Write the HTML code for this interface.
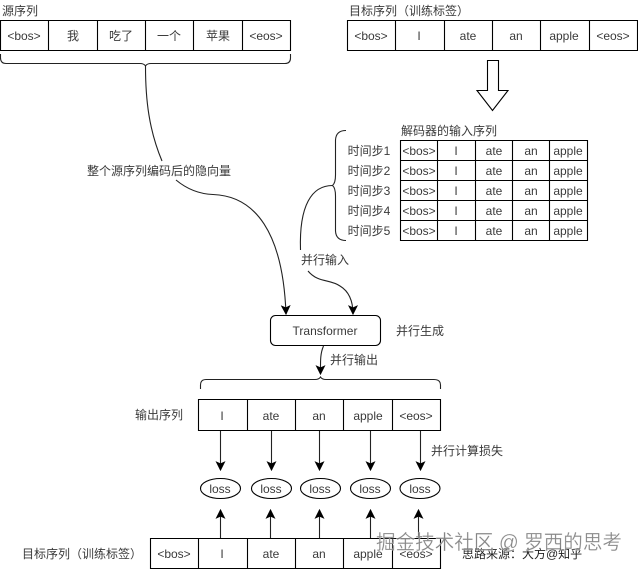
<!DOCTYPE html>
<html>
<head>
<meta charset="utf-8">
<style>
html,body{margin:0;padding:0;background:#fff;}
svg{display:block;}
text{font-family:"Liberation Sans","Noto Sans CJK SC",sans-serif;font-size:12px;fill:#3a3a3a;text-anchor:middle;}
.s{text-anchor:start;}
.l{fill:none;stroke:#000;stroke-width:1.1;}
.c{fill:none;stroke:#222;stroke-width:1.1;}
</style>
</head>
<body>
<svg width="638" height="569" viewBox="0 0 638 569" xmlns="http://www.w3.org/2000/svg">
<defs>
<marker id="a" markerUnits="userSpaceOnUse" markerWidth="10" markerHeight="12" refX="8" refY="4.5" orient="auto" viewBox="0 0 9 9">
<path d="M0 0L9 4.5L0 9L2 4.5Z" fill="#000"/>
</marker>
</defs>

<!-- Source table -->
<text class="s" x="2" y="15">源序列</text>
<path class="l" d="M0.5 20.5H290.5V50.5H0.5ZM48.5 20.5V50.5M97.5 20.5V50.5M145.5 20.5V50.5M193.5 20.5V50.5M242.5 20.5V50.5"/>
<text x="24" y="40">&lt;bos&gt;</text>
<text x="73" y="40">我</text>
<text x="121" y="40">吃了</text>
<text x="169" y="40">一个</text>
<text x="218" y="40">苹果</text>
<text x="266" y="40">&lt;eos&gt;</text>
<path class="c" d="M0.5 54V58Q0.5 63.5 6 63.5H140Q144 63.5 145.5 66Q147 63.5 151 63.5H285Q290.5 63.5 290.5 58V54"/>

<!-- Target table top -->
<text class="s" x="349" y="15">目标序列（训练标签）</text>
<path class="l" d="M347.5 20.5H637.5V50.5H347.5ZM395.5 20.5V50.5M444.5 20.5V50.5M492.5 20.5V50.5M540.5 20.5V50.5M589.5 20.5V50.5"/>
<text x="371" y="40">&lt;bos&gt;</text>
<text x="419" y="40">I</text>
<text x="468" y="40">ate</text>
<text x="516" y="40">an</text>
<text x="564" y="40">apple</text>
<text x="613" y="40">&lt;eos&gt;</text>

<!-- Hollow arrow -->
<path d="M487.5 60.5H498.5V90.5H508L492.5 110.5L477 90.5H487.5Z" fill="#fff" stroke="#000" stroke-width="1.1"/>

<!-- Decoder table -->
<text x="449" y="135">解码器的输入序列</text>
<path class="l" d="M400.5 140.5H587.5V240.5H400.5ZM400.5 160.5H587.5M400.5 180.5H587.5M400.5 200.5H587.5M400.5 220.5H587.5M437.5 140.5V240.5M475.5 140.5V240.5M512.5 140.5V240.5M549.5 140.5V240.5"/>
<g>
<text x="369" y="155">时间步1</text><text x="419" y="155">&lt;bos&gt;</text><text x="456" y="155">I</text><text x="494" y="155">ate</text><text x="531" y="155">an</text><text x="568" y="155">apple</text>
<text x="369" y="175">时间步2</text><text x="419" y="175">&lt;bos&gt;</text><text x="456" y="175">I</text><text x="494" y="175">ate</text><text x="531" y="175">an</text><text x="568" y="175">apple</text>
<text x="369" y="195">时间步3</text><text x="419" y="195">&lt;bos&gt;</text><text x="456" y="195">I</text><text x="494" y="195">ate</text><text x="531" y="195">an</text><text x="568" y="195">apple</text>
<text x="369" y="215">时间步4</text><text x="419" y="215">&lt;bos&gt;</text><text x="456" y="215">I</text><text x="494" y="215">ate</text><text x="531" y="215">an</text><text x="568" y="215">apple</text>
<text x="369" y="235">时间步5</text><text x="419" y="235">&lt;bos&gt;</text><text x="456" y="235">I</text><text x="494" y="235">ate</text><text x="531" y="235">an</text><text x="568" y="235">apple</text>
</g>
<path class="c" d="M346 130.5Q336 130.5 335.5 140V175Q335.5 183 332.5 185.5Q335.5 188 335.5 196V231Q336 240.5 346 240.5"/>

<!-- Curves -->
<path class="c" d="M145.5 66C145.5 100 149 130 162 161"/>
<path class="c" d="M176 180C188 190 200 194 213 194.5C255 196 283 232 286 314" marker-end="url(#a)"/>
<text x="159" y="175">整个源序列编码后的隐向量</text>
<path class="c" d="M332.5 185.5C312 185.5 299 205 300.5 250"/>
<path class="c" d="M308 271C318 283 330 279 340 286C350 292 353 302 353 314" marker-end="url(#a)"/>
<text x="325" y="264">并行输入</text>

<!-- Transformer -->
<rect x="270.5" y="315.5" width="110" height="30" rx="5" fill="#fff" stroke="#000" stroke-width="1.1"/>
<text x="325" y="335">Transformer</text>
<text class="s" x="396" y="335">并行生成</text>
<path class="c" d="M323.5 346C320 354 320.5 362 320.5 374" marker-end="url(#a)"/>
<text class="s" x="330" y="364">并行输出</text>
<path class="c" d="M200.5 389V385Q200.5 379.5 206 379.5H315Q319 379.5 320.5 377Q322 379.5 326 379.5H434Q440.5 379.5 440.5 385V389"/>

<!-- Output table -->
<text class="s" x="135" y="419">输出序列</text>
<path class="l" d="M198.5 399.5H440.5V430.5H198.5ZM247.5 399.5V430.5M295.5 399.5V430.5M343.5 399.5V430.5M392.5 399.5V430.5"/>
<text x="222" y="420">I</text>
<text x="271" y="420">ate</text>
<text x="319" y="420">an</text>
<text x="368" y="420">apple</text>
<text x="416" y="420">&lt;eos&gt;</text>

<!-- Arrows down -->
<path class="c" d="M220.5 431V470" marker-end="url(#a)"/>
<path class="c" d="M271.5 431V470" marker-end="url(#a)"/>
<path class="c" d="M319.5 431V470" marker-end="url(#a)"/>
<path class="c" d="M370.5 431V470" marker-end="url(#a)"/>
<path class="c" d="M420.5 431V470" marker-end="url(#a)"/>
<text class="s" x="431" y="455">并行计算损失</text>

<!-- Loss -->
<g fill="#fff" stroke="#000" stroke-width="1.1">
<ellipse cx="220.5" cy="488.5" rx="20" ry="10"/>
<ellipse cx="271.5" cy="488.5" rx="20" ry="10"/>
<ellipse cx="320.5" cy="488.5" rx="20" ry="10"/>
<ellipse cx="370.5" cy="488.5" rx="20" ry="10"/>
<ellipse cx="420" cy="488.5" rx="20" ry="10"/>
</g>
<text x="220" y="493">loss</text>
<text x="271" y="493">loss</text>
<text x="320" y="493">loss</text>
<text x="370" y="493">loss</text>
<text x="420" y="493">loss</text>

<!-- Arrows up -->
<path class="c" d="M220.5 538V510" marker-end="url(#a)"/>
<path class="c" d="M270.5 538V510" marker-end="url(#a)"/>
<path class="c" d="M319.5 538V510" marker-end="url(#a)"/>
<path class="c" d="M370.5 538V510" marker-end="url(#a)"/>
<path class="c" d="M418.5 538V510" marker-end="url(#a)"/>

<!-- Bottom table -->
<text class="s" x="22" y="558">目标序列（训练标签）</text>
<path class="l" d="M150.5 538.5H440.5V568.5H150.5ZM198.5 538.5V568.5M247.5 538.5V568.5M295.5 538.5V568.5M343.5 538.5V568.5M392.5 538.5V568.5"/>
<text x="174" y="558">&lt;bos&gt;</text>
<text x="222" y="558">I</text>
<text x="271" y="558">ate</text>
<text x="319" y="558">an</text>
<text x="368" y="558">apple</text>
<text x="416" y="558">&lt;eos&gt;</text>

<text class="s" x="462" y="558" style="fill:#222">思路来源：大方@知乎</text>

<!-- Watermark -->
<text class="s" x="376" y="549" textLength="246" lengthAdjust="spacingAndGlyphs" style="font-size:20px;fill:#777;fill-opacity:.9;stroke:#fff;stroke-opacity:.55;stroke-width:.5;">掘金技术社区 @ 罗西的思考</text>
</svg>
</body>
</html>
